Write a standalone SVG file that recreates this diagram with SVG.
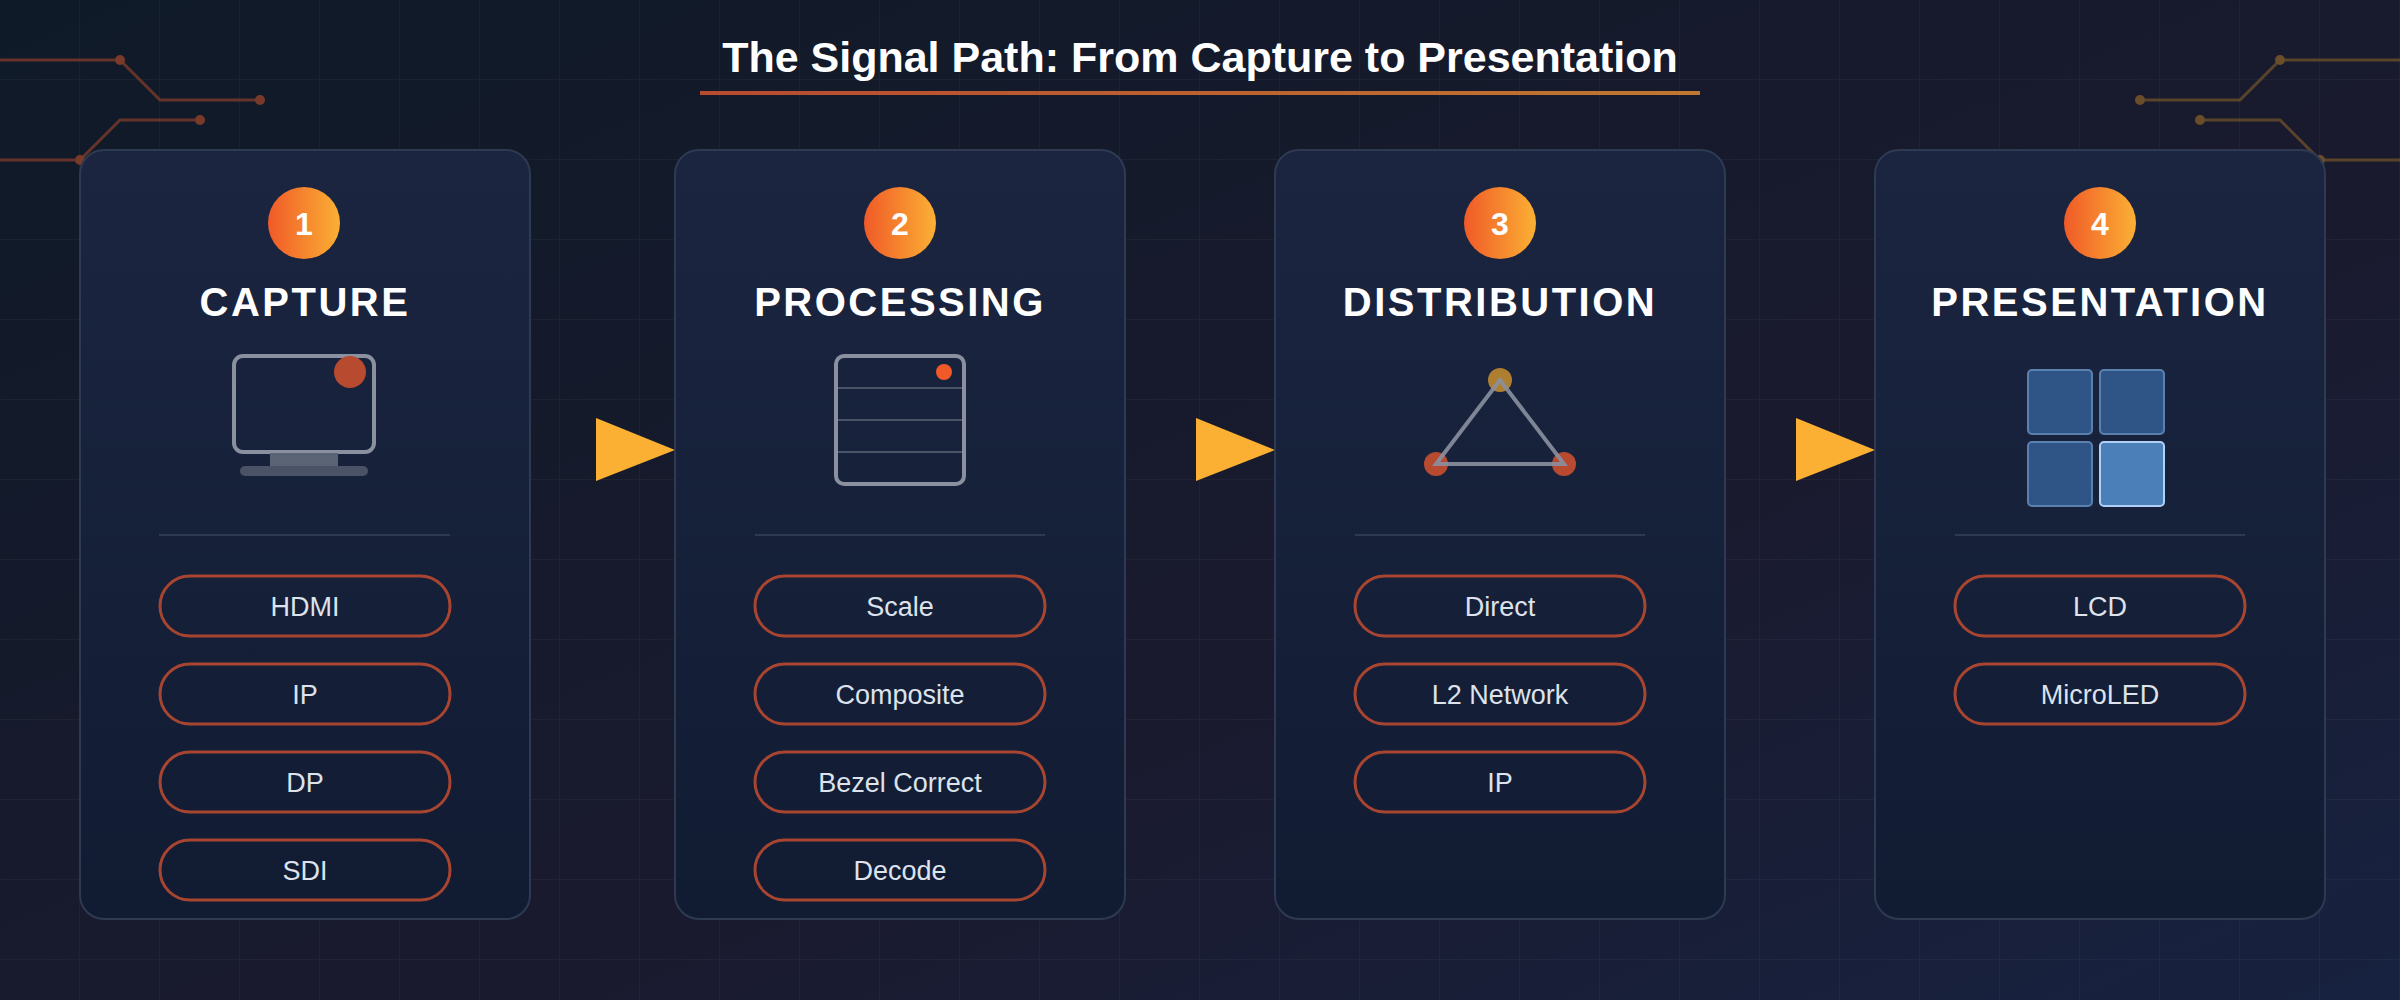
<svg xmlns="http://www.w3.org/2000/svg" width="2400" height="1000" viewBox="0 0 2400 1000">
<defs>
<linearGradient id="bg" x1="0" y1="0" x2="1" y2="1"><stop offset="0" stop-color="#0f1a28"/><stop offset="0.6" stop-color="#1a1a2e"/><stop offset="1" stop-color="#172240"/></linearGradient>
<linearGradient id="card" x1="0" y1="0" x2="0" y2="1"><stop offset="0" stop-color="#1b2540"/><stop offset="1" stop-color="#111c33"/></linearGradient>
<linearGradient id="badge" x1="0" y1="0" x2="1" y2="0"><stop offset="0" stop-color="#f05a28"/><stop offset="1" stop-color="#fbb034"/></linearGradient>
<linearGradient id="ul" x1="0" y1="0" x2="1" y2="0"><stop offset="0" stop-color="#b84a30"/><stop offset="1" stop-color="#c07830"/></linearGradient>
<pattern id="grid" width="80" height="80" patternUnits="userSpaceOnUse"><path d="M80 0V80H0" fill="none" stroke="#ffffff" stroke-opacity="0.035" stroke-width="2"/></pattern>
</defs>
<style>
.card{fill:url(#card);stroke:#2e3a52;stroke-width:2}
.num{font-family:"Liberation Sans",Arial,sans-serif;font-weight:bold;font-size:32px;fill:#fff;text-anchor:middle}
.ttl{font-family:"Liberation Sans",Arial,sans-serif;font-weight:bold;font-size:40px;fill:#fff;text-anchor:middle;letter-spacing:2.5px}
.pill{fill:none;stroke:#a84530;stroke-width:3}
.pt{font-family:"Liberation Sans",Arial,sans-serif;font-size:27px;fill:#dde2ec;text-anchor:middle}
.div{stroke:#2e3a52;stroke-width:2}
.ic{fill:none;stroke:#8a90a0;stroke-width:4}
.arr{fill:#fbb034}
.cl{fill:none;stroke:#7a3a2a;stroke-width:3;opacity:0.8}
.cr{fill:none;stroke:#6a4e2a;stroke-width:3;opacity:0.8}
</style>
<rect width="2400" height="1000" fill="url(#bg)"/>
<rect width="2400" height="1000" fill="url(#grid)"/>
<g id="circuits">
<path class="cl" d="M0 60H120L160 100H260M0 160H80L120 120H200"/>
<g fill="#7a3a2a"><circle cx="120" cy="60" r="5"/><circle cx="260" cy="100" r="5"/><circle cx="200" cy="120" r="5"/><circle cx="80" cy="160" r="5"/></g>
<path class="cr" d="M2400 60H2280L2240 100H2140M2400 160H2320L2280 120H2200"/>
<g fill="#6a4e2a"><circle cx="2280" cy="60" r="5"/><circle cx="2140" cy="100" r="5"/><circle cx="2200" cy="120" r="5"/><circle cx="2320" cy="160" r="5"/></g>
</g>
<g id="title">
<text x="1200" y="72" font-family="Liberation Sans,Arial,sans-serif" font-weight="bold" font-size="43" fill="#fff" text-anchor="middle">The Signal Path: From Capture to Presentation</text>
<rect x="700" y="91" width="1000" height="4" fill="url(#ul)"/>
</g>
<g id="connectors">
<polygon class="arr" points="596,418 675,450 596,481"/>
<polygon class="arr" points="1196,418 1275,450 1196,481"/>
<polygon class="arr" points="1796,418 1875,450 1796,481"/>
</g>
<g id="capture">
<rect class="card" x="80" y="150" width="450" height="769" rx="24"/>
<circle cx="304" cy="223" r="36" fill="url(#badge)"/><text class="num" x="304" y="235">1</text>
<text class="ttl" x="305" y="316">CAPTURE</text>
<rect class="ic" x="234" y="356" width="140" height="96" rx="9"/>
<circle cx="350" cy="372" r="16" fill="#b84a30"/>
<rect x="270" y="453" width="68" height="13" fill="#5a6475"/>
<rect x="240" y="466" width="128" height="10" rx="5" fill="#4a5266"/>
<line class="div" x1="159" y1="535" x2="450" y2="535"/>
<rect class="pill" x="160" y="576" width="290" height="60" rx="30"/><text class="pt" x="305" y="616">HDMI</text>
<rect class="pill" x="160" y="664" width="290" height="60" rx="30"/><text class="pt" x="305" y="704">IP</text>
<rect class="pill" x="160" y="752" width="290" height="60" rx="30"/><text class="pt" x="305" y="792">DP</text>
<rect class="pill" x="160" y="840" width="290" height="60" rx="30"/><text class="pt" x="305" y="880">SDI</text>
</g>
<g id="processing">
<rect class="card" x="675" y="150" width="450" height="769" rx="24"/>
<circle cx="900" cy="223" r="36" fill="url(#badge)"/><text class="num" x="900" y="235">2</text>
<text class="ttl" x="900" y="316">PROCESSING</text>
<rect class="ic" x="836" y="356" width="128" height="128" rx="8"/>
<g stroke="#4a5468" stroke-width="2"><line x1="838" y1="388" x2="962" y2="388"/><line x1="838" y1="420" x2="962" y2="420"/><line x1="838" y1="452" x2="962" y2="452"/></g>
<circle cx="944" cy="372" r="8" fill="#f05a28"/>
<line class="div" x1="755" y1="535" x2="1045" y2="535"/>
<rect class="pill" x="755" y="576" width="290" height="60" rx="30"/><text class="pt" x="900" y="616">Scale</text>
<rect class="pill" x="755" y="664" width="290" height="60" rx="30"/><text class="pt" x="900" y="704">Composite</text>
<rect class="pill" x="755" y="752" width="290" height="60" rx="30"/><text class="pt" x="900" y="792">Bezel Correct</text>
<rect class="pill" x="755" y="840" width="290" height="60" rx="30"/><text class="pt" x="900" y="880">Decode</text>
</g>
<g id="distribution">
<rect class="card" x="1275" y="150" width="450" height="769" rx="24"/>
<circle cx="1500" cy="223" r="36" fill="url(#badge)"/><text class="num" x="1500" y="235">3</text>
<text class="ttl" x="1500" y="316">DISTRIBUTION</text>
<circle cx="1500" cy="380" r="12" fill="#c08a30" opacity="0.9"/>
<circle cx="1436" cy="464" r="12" fill="#b84a30"/>
<circle cx="1564" cy="464" r="12" fill="#b84a30"/>
<polygon points="1500,380 1436,464 1564,464" fill="none" stroke="#8a90a0" stroke-width="4" stroke-opacity="0.9"/>
<line class="div" x1="1355" y1="535" x2="1645" y2="535"/>
<rect class="pill" x="1355" y="576" width="290" height="60" rx="30"/><text class="pt" x="1500" y="616">Direct</text>
<rect class="pill" x="1355" y="664" width="290" height="60" rx="30"/><text class="pt" x="1500" y="704">L2 Network</text>
<rect class="pill" x="1355" y="752" width="290" height="60" rx="30"/><text class="pt" x="1500" y="792">IP</text>
</g>
<g id="presentation">
<rect class="card" x="1875" y="150" width="450" height="769" rx="24"/>
<circle cx="2100" cy="223" r="36" fill="url(#badge)"/><text class="num" x="2100" y="235">4</text>
<text class="ttl" x="2100" y="316">PRESENTATION</text>
<g stroke="#5a80b0" stroke-width="2">
<rect x="2028" y="370" width="64" height="64" rx="4" fill="#2e5585"/>
<rect x="2100" y="370" width="64" height="64" rx="4" fill="#2e5585"/>
<rect x="2028" y="442" width="64" height="64" rx="4" fill="#2e5585"/>
<rect x="2100" y="442" width="64" height="64" rx="4" fill="#4a7fb8" stroke="#b0d0f5"/>
</g>
<line class="div" x1="1955" y1="535" x2="2245" y2="535"/>
<rect class="pill" x="1955" y="576" width="290" height="60" rx="30"/><text class="pt" x="2100" y="616">LCD</text>
<rect class="pill" x="1955" y="664" width="290" height="60" rx="30"/><text class="pt" x="2100" y="704">MicroLED</text>
</g>
</svg>
